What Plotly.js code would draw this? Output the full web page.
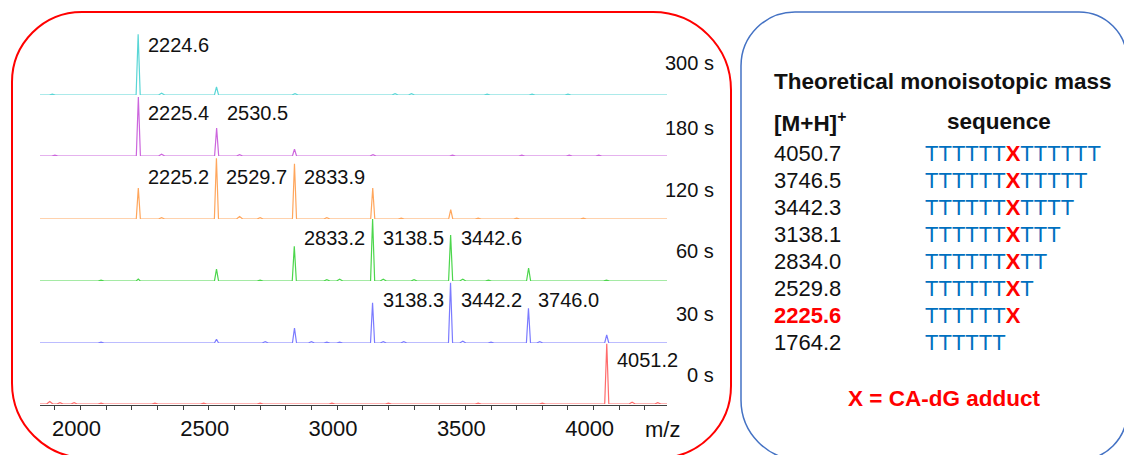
<!DOCTYPE html>
<html>
<head>
<meta charset="utf-8">
<script src="https://cdn.plot.ly/plotly-3.0.1.min.js"></script>
<style>
  html, body { margin: 0; padding: 0; background: #ffffff; }
  #chart { width: 1124px; height: 455px; }
</style>
</head>
<body>
<div id="chart"></div>
<script>
// Reaction time of each stacked MALDI spectrum, top to bottom
const times = ['300 s', '180 s', '120 s', '60 s', '30 s', '0 s'];

// Main ion peaks (m/z, relative intensity in %) and whether each is annotated
const mz300 = [2224.6, 2530.0];
const int300 = [98, 13];
const lab300 = [true, false];

const mz180 = [2225.4, 2530.5, 2834.0];
const int180 = [95, 45, 11];
const lab180 = [true, true, false];

const mz120 = [2225.2, 2529.7, 2833.9, 3139.0, 3443.0];
const int120 = [50, 98, 89, 50, 15];
const lab120 = [true, true, true, false, false];

const mz60 = [2225.0, 2530.0, 2833.2, 3138.5, 3442.6, 3746.5];
const int60 = [3, 19, 56, 100, 74, 21];
const lab60 = [false, false, true, true, true, false];

const mz30 = [2530.0, 2834.0, 3138.3, 3442.2, 3746.0, 4051.0];
const int30 = [6, 24, 65, 97, 56, 13];
const lab30 = [false, false, true, true, true, false];

const mz0 = [4051.2];
const int0 = [97];
const lab0 = [true];

// Minor baseline features of each spectrum
const minorMz300 = [1890, 2316, 2836, 3226, 3290, 3585, 3760, 3900];
const minorInt300 = [1.5, 3, 2, 2, 2, 1.5, 1.5, 1.5];
const minorMz180 = [1900, 2316, 2620, 3140, 3450, 3720, 3905, 4020];
const minorInt180 = [1.5, 3, 2, 2, 1.5, 1.5, 1.5, 1.5];
const minorMz120 = [2316, 2620, 2700, 2960, 3250, 3550, 3700, 3960];
const minorInt120 = [2, 4, 2, 2, 1.5, 1.5, 1.5, 1.5];
const minorMz60 = [2080, 2700, 2960, 3010, 3180, 3300, 3490, 3590, 4050];
const minorInt60 = [1.5, 1.5, 2, 3, 3, 2, 3, 1.5, 1.5];
const minorMz30 = [2080, 2720, 2900, 2960, 3010, 3180, 3260, 3490, 3600, 3790];
const minorInt30 = [1.5, 2, 2, 1.5, 1.5, 2, 2, 3, 1.5, 2];
const minorMz0 = [1880, 1920, 1975, 2080, 2290, 2480, 2700, 2980, 3200, 3550, 3800, 4150, 4250];
const minorInt0 = [4, 2, 2, 1.5, 1.5, 1.5, 1.5, 1.5, 1.5, 1.5, 1.5, 3, 2];

// Theoretical [M+H]+ masses and the matching sequences (X = CA-dG adduct)
const theoMass = ['4050.7', '3746.5', '3442.3', '3138.1', '2834.0', '2529.8', '2225.6', '1764.2'];
const sequences = ['TTTTTTXTTTTTT', 'TTTTTTXTTTTT', 'TTTTTTXTTTT', 'TTTTTTXTTT',
                   'TTTTTTXTT', 'TTTTTTXT', 'TTTTTTX', 'TTTTTT'];
const highlightMass = '2225.6';

// x tick values of the m/z axis
const tickVals = [2000, 2500, 3000, 3500, 4000];

// ---------------------------------------------------------------- layout
const W = 1124, H = 455;
const M = { l: 40, r: 457, t: 20, b: 50 };
const PW = W - M.l - M.r, PH = H - M.t - M.b;
const XMIN = 1842, XMAX = 4286;
const px = x => (x - M.l) / PW;          // pixel -> paper x
const py = y => (H - M.b - y) / PH;      // pixel -> paper y

const colors = ['#5ad6d6', '#cc66dd', '#ffa65c', '#4cd64c', '#7b7bff', '#ff6b6b'];
const baselines = [95, 156, 219, 281, 343, 404];   // px
const rowHeight = 62;                              // px for 100 %
const labelLift = [50, 43, 42, 43, 43, 44];
const timeLift = [32, 28, 29, 30, 29, 29];

const series = [
  [mz300, int300, lab300, minorMz300, minorInt300],
  [mz180, int180, lab180, minorMz180, minorInt180],
  [mz120, int120, lab120, minorMz120, minorInt120],
  [mz60, int60, lab60, minorMz60, minorInt60],
  [mz30, int30, lab30, minorMz30, minorInt30],
  [mz0, int0, lab0, minorMz0, minorInt0]
];

function spectrum(mz, inten, nMz, nInt) {
  const pk = [];
  mz.forEach((m, i) => pk.push({ m: m, h: inten[i], w: 8 }));
  nMz.forEach((m, i) => pk.push({ m: m, h: nInt[i], w: 12 }));
  pk.sort((a, b) => a.m - b.m);
  const x = [XMIN], y = [0];
  pk.forEach(p => { x.push(p.m - p.w, p.m, p.m + p.w); y.push(0, p.h, 0); });
  x.push(XMAX); y.push(0);
  return { x: x, y: y };
}

const data = [];
const annotations = [];
const layout = {
  width: W, height: H,
  margin: M,
  paper_bgcolor: '#ffffff',
  plot_bgcolor: 'rgba(0,0,0,0)',
  showlegend: false,
  font: { family: 'Liberation Sans, Arial, sans-serif', color: '#111111' },
  xaxis: {
    range: [XMIN, XMAX],
    anchor: 'free', position: 0,
    showgrid: false, zeroline: false,
    showline: true, linecolor: '#404040', linewidth: 1,
    tickmode: 'array', tickvals: tickVals,
    ticks: 'outside', ticklen: 4, tickcolor: '#404040', tickwidth: 1,
    minor: { dtick: 100, tick0: 0, ticks: 'outside', ticklen: 4, tickcolor: '#404040', tickwidth: 1, showgrid: false },
    tickfont: { size: 22, color: '#111111' },
    ticklabelshift: -4,
    ticklabelstandoff: 0,
    fixedrange: true
  }
};

series.forEach((s, i) => {
  const [mz, inten, lab, nMz, nInt] = s;
  const ax = i === 0 ? 'y' : 'y' + (i + 1);
  const axKey = i === 0 ? 'yaxis' : 'yaxis' + (i + 1);
  const b = baselines[i];
  layout[axKey] = {
    domain: [py(b), py(b - rowHeight)],
    range: [0, 100],
    visible: false, fixedrange: true
  };
  const sp = spectrum(mz, inten, nMz, nInt);
  data.push({
    type: 'scatter', mode: 'lines',
    x: sp.x, y: sp.y, xaxis: 'x', yaxis: ax,
    line: { color: colors[i], width: 1.2 },
    hoverinfo: 'skip', cliponaxis: false
  });
  mz.forEach((m, j) => {
    if (!lab[j]) return;
    annotations.push({
      xref: 'x', yref: ax, x: m, y: 0,
      xanchor: 'left', yanchor: 'middle',
      xshift: 8, yshift: labelLift[i],
      text: m.toFixed(1), showarrow: false,
      font: { size: 20, color: '#111111' }
    });
  });
  annotations.push({
    xref: 'paper', yref: ax, x: 1, y: 0,
    xanchor: 'right', yanchor: 'middle',
    xshift: 49, yshift: timeLift[i],
    text: times[i], showarrow: false,
    font: { size: 20, color: '#111111' }
  });
});

// axis unit label
annotations.push({
  xref: 'paper', yref: 'paper', x: px(643), y: py(430),
  xanchor: 'left', yanchor: 'middle',
  text: 'm/z', showarrow: false,
  font: { size: 22, color: '#111111' }
});

// table of theoretical masses
const tableFont = { size: 22.5, color: '#111111' };
annotations.push({
  xref: 'paper', yref: 'paper', x: px(772), y: py(81),
  xanchor: 'left', yanchor: 'middle', showarrow: false,
  text: '<b>Theoretical monoisotopic mass</b>', font: tableFont
});
annotations.push({
  xref: 'paper', yref: 'paper', x: px(772), y: py(122),
  xanchor: 'left', yanchor: 'middle', showarrow: false,
  text: '<b>[M+H]<sup>+</sup></b>', font: tableFont
});
annotations.push({
  xref: 'paper', yref: 'paper', x: px(945), y: py(122),
  xanchor: 'left', yanchor: 'middle', showarrow: false,
  text: '<b>sequence</b>', font: tableFont
});
theoMass.forEach((m, i) => {
  const yc = 153 + i * 27.1;
  const hl = m === highlightMass;
  annotations.push({
    xref: 'paper', yref: 'paper', x: px(772), y: py(yc),
    xanchor: 'left', yanchor: 'middle', showarrow: false,
    text: hl ? '<b>' + m + '</b>' : m,
    font: { size: 22, color: hl ? '#ff0000' : '#111111' }
  });
  const seq = sequences[i].split('X')
    .map(part => part ? '<span style="color:#0070c0">' + part + '</span>' : '')
    .join('<span style="color:#ff0000"><b>X</b></span>');
  annotations.push({
    xref: 'paper', yref: 'paper', x: px(923), y: py(yc),
    xanchor: 'left', yanchor: 'middle', showarrow: false,
    text: seq, font: { size: 22, color: '#0070c0' }
  });
});
annotations.push({
  xref: 'paper', yref: 'paper', x: px(846), y: py(398),
  xanchor: 'left', yanchor: 'middle', showarrow: false,
  text: '<b>X = CA-dG adduct</b>', font: { size: 22.5, color: '#ff0000' }
});

// rounded panel frames, corners drawn with cubic curves
function roundRect(x0, y0, x1, y1, r) {
  // r = [top-left, top-right, bottom-right, bottom-left]
  const k = 0.5523;
  const P = (x, y) => px(x).toFixed(5) + ',' + py(y).toFixed(5);
  let d = 'M' + P(x0 + r[0], y0);
  d += ' L' + P(x1 - r[1], y0);
  d += ' C' + P(x1 - r[1] + k * r[1], y0) + ' ' + P(x1, y0 + r[1] - k * r[1]) + ' ' + P(x1, y0 + r[1]);
  d += ' L' + P(x1, y1 - r[2]);
  d += ' C' + P(x1, y1 - r[2] + k * r[2]) + ' ' + P(x1 - r[2] + k * r[2], y1) + ' ' + P(x1 - r[2], y1);
  d += ' L' + P(x0 + r[3], y1);
  d += ' C' + P(x0 + r[3] - k * r[3], y1) + ' ' + P(x0, y1 - r[3] + k * r[3]) + ' ' + P(x0, y1 - r[3]);
  d += ' L' + P(x0, y0 + r[0]);
  d += ' C' + P(x0, y0 + r[0] - k * r[0]) + ' ' + P(x0 + r[0] - k * r[0], y0) + ' ' + P(x0 + r[0], y0);
  return d + ' Z';
}

layout.shapes = [
  {
    type: 'path', xref: 'paper', yref: 'paper', layer: 'below',
    path: roundRect(12, 12, 731, 458, [70, 78, 72, 75]),
    line: { color: '#ff0000', width: 2 }
  },
  {
    type: 'path', xref: 'paper', yref: 'paper', layer: 'below',
    path: roundRect(741, 12, 1127, 460, [54, 48, 48, 60]),
    line: { color: '#4472c4', width: 1.5 }
  }
];
layout.annotations = annotations;

Plotly.newPlot('chart', data, layout, { staticPlot: true, displayModeBar: false });
</script>
</body>
</html>
